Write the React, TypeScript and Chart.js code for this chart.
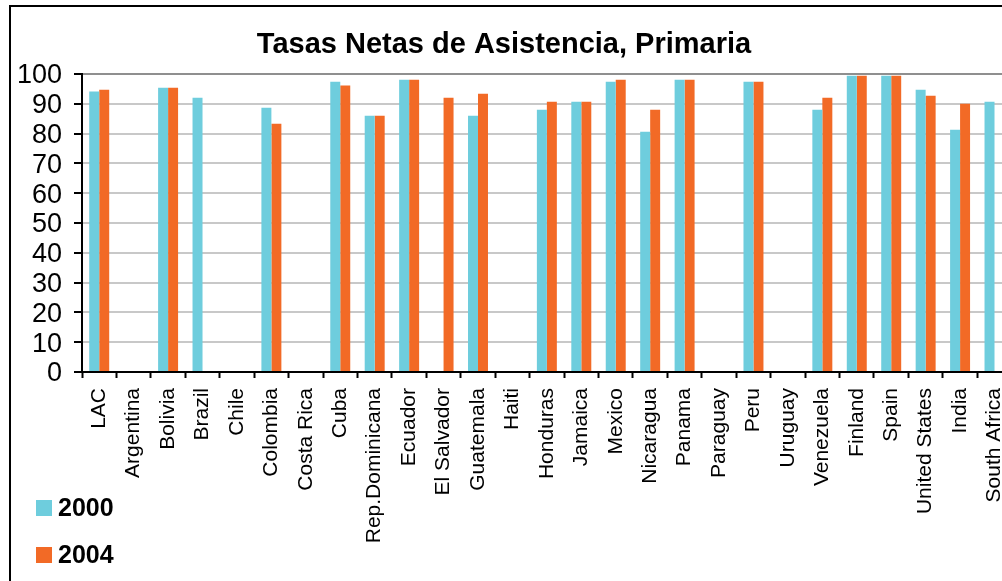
import React, { useEffect, useRef } from "react";
import { Chart, registerables } from "chart.js";

Chart.register(...registerables);

const categories = [
  "LAC", "Argentina", "Bolivia", "Brazil", "Chile", "Colombia", "Costa Rica", "Cuba",
  "Rep.Dominicana", "Ecuador", "El Salvador", "Guatemala", "Haiti", "Honduras", "Jamaica",
  "Mexico", "Nicaragua", "Panama", "Paraguay", "Peru", "Uruguay", "Venezuela", "Finland",
  "Spain", "United States", "India", "South Africa",
];

const values2000 = [
  94.1, null, 95.4, 92.0, null, 88.7, null, 97.4, 86.0, 98.1, null, 86.0, null, 88.0, 90.7,
  97.4, 80.6, 98.1, null, 97.4, null, 88.0, 99.4, 99.4, 94.7, 81.3, 90.7,
];

const values2004 = [
  94.7, null, 95.4, null, null, 83.3, null, 96.1, 86.0, 98.1, 92.0, 93.4, null, 90.7, 90.7,
  98.1, 88.0, 98.1, null, 97.4, null, 92.0, 99.4, 99.4, 92.7, 90.0, null,
];

const seriesLabels = ["2000", "2004"];
const seriesColors = ["#6ECDDD", "#F26A26"];
const titleText = "Tasas Netas de Asistencia, Primaria";
const yTicks = { min: 0, max: 100, step: 10 };

const FONT = "'Liberation Sans', Arial, sans-serif";

const titleLegendPlugin = {
  id: "titleLegend",
  afterDraw(chart: any) {
    const ctx = chart.ctx;
    ctx.save();
    ctx.fillStyle = "#000";
    ctx.textBaseline = "alphabetic";
    ctx.textAlign = "center";
    ctx.font = `bold 29px ${FONT}`;
    ctx.fillText(titleText, 504, 53);

    ctx.textAlign = "left";
    ctx.font = `bold 25px ${FONT}`;
    chart.data.datasets.forEach((ds: any, i: number) => {
      const top = 500 + i * 47;
      ctx.fillStyle = ds.backgroundColor;
      ctx.fillRect(36, top, 16, 16);
      ctx.fillStyle = "#000";
      ctx.fillText(ds.label, 58, top + 16);
    });
    ctx.restore();
  },
};

export default function App() {
  const canvasRef = useRef<HTMLCanvasElement | null>(null);

  useEffect(() => {
    if (!canvasRef.current) return;
    const chart = new Chart(canvasRef.current, {
      type: "bar",
      data: {
        labels: categories,
        datasets: [
          {
            label: seriesLabels[0],
            data: values2000,
            backgroundColor: seriesColors[0],
            borderWidth: 0,
            categoryPercentage: 0.58,
            barPercentage: 1.0,
          },
          {
            label: seriesLabels[1],
            data: values2004,
            backgroundColor: seriesColors[1],
            borderWidth: 0,
            categoryPercentage: 0.58,
            barPercentage: 1.0,
          },
        ],
      },
      options: {
        responsive: false,
        animation: false,
        layout: { padding: { left: 12, right: 15.5, top: 74, bottom: 0 } },
        plugins: {
          legend: { display: false },
          title: { display: false },
          tooltip: { enabled: false },
        },
        scales: {
          x: {
            offset: true,
            grid: {
              display: true,
              drawOnChartArea: false,
              drawTicks: true,
              tickLength: 6,
              tickColor: "#000",
              tickWidth: 2,
              offset: true,
            },
            border: { display: true, color: "#000", width: 2 },
            ticks: {
              autoSkip: false,
              maxRotation: 90,
              minRotation: 90,
              padding: 10,
              color: "#000",
              font: { family: FONT, size: 21 },
            },
            afterFit(scale: any) {
              scale.height = 209;
            },
          },
          y: {
            min: yTicks.min,
            max: yTicks.max,
            grid: {
              color: (c: any) => (c.tick && c.tick.value === 100 ? "#8f8f8f" : "#c8c8c8"),
              lineWidth: 2,
              tickLength: 8,
              tickColor: "#000",
              tickWidth: 2,
            },
            border: { display: true, color: "#000", width: 2 },
            ticks: {
              stepSize: yTicks.step,
              autoSkip: false,
              padding: 12,
              labelOffset: 2,
              color: "#000",
              font: { family: FONT, size: 27, lineHeight: 1 },
            },
            afterFit(scale: any) {
              scale.width = 70;
            },
          },
        },
      },
      plugins: [titleLegendPlugin],
    } as any);
    return () => chart.destroy();
  }, []);

  return (
    <div
      style={{
        position: "fixed",
        left: 0,
        top: 0,
        width: 1002,
        height: 581,
        overflow: "hidden",
        background: "#fff",
      }}
    >
      <div
        style={{
          position: "absolute",
          left: 9,
          top: 5,
          width: 1100,
          height: 700,
          borderLeft: "2px solid #000",
          borderTop: "2px solid #000",
          boxSizing: "border-box",
        }}
      />
      <canvas
        ref={canvasRef}
        width={1030}
        height={581}
        style={{ position: "absolute", left: 0, top: 0, display: "block" }}
      />
    </div>
  );
}
